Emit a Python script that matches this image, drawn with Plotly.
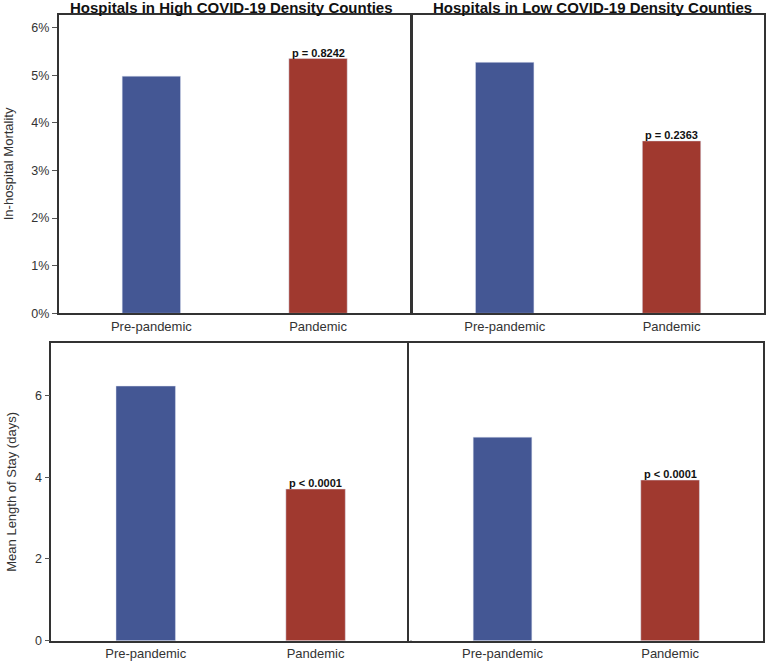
import plotly.graph_objects as go

categories = ["Pre-pandemic", "Pandemic"]
panel_titles = ["Hospitals in High COVID-19 Density Counties",
                "Hospitals in Low COVID-19 Density Counties"]
mortality_high = [0.0498, 0.0535]
mortality_low = [0.0527, 0.0362]
los_high = [6.23, 3.71]
los_low = [4.98, 3.93]
p_mortality_high = "p = 0.8242"
p_mortality_low = "p = 0.2363"
p_los_high = "p < 0.0001"
p_los_low = "p < 0.0001"
bar_colors = ["#445794", "#A0392F"]

FONT = "Liberation Sans, Arial, sans-serif"

fig = go.Figure()

panels = [
    ("x", "y", mortality_high, p_mortality_high),
    ("x2", "y2", mortality_low, p_mortality_low),
    ("x3", "y3", los_high, p_los_high),
    ("x4", "y4", los_low, p_los_low),
]
for xa, ya, vals, ptxt in panels:
    fig.add_trace(go.Bar(x=categories, y=vals, xaxis=xa, yaxis=ya,
                         width=0.35, marker=dict(color=bar_colors,
                         line=dict(color="rgba(220,225,240,0.8)", width=0.6)),
                         showlegend=False, hoverinfo="x+y"))
    fig.add_annotation(x=categories[1], y=vals[1], xref=xa, yref=ya,
                       text="<b>" + ptxt + "</b>", showarrow=False,
                       xanchor="center", yanchor="bottom", yshift=-2,
                       font=dict(family=FONT, size=11, color="#111"))

xcommon = dict(range=[-0.556, 1.556], showline=True, mirror=True, automargin=False,
               linecolor="#333", linewidth=1.5, ticks="", showgrid=False,
               tickfont=dict(family=FONT, size=13, color="#333"), fixedrange=True)
ycommon = dict(showline=True, mirror=True, linecolor="#333", linewidth=1.5,
               showgrid=False, zeroline=False, fixedrange=True, automargin=False,
               tickfont=dict(family=FONT, size=12.5, color="#333"))

fig.update_layout(
    width=770, height=661, autosize=False,
    margin=dict(l=0, r=0, t=0, b=0, pad=0),
    paper_bgcolor="white", plot_bgcolor="white",
    font=dict(family=FONT, color="#222"),
    xaxis=dict(domain=[0.0762, 0.5334], anchor="y", **xcommon),
    yaxis=dict(domain=[0.526, 0.977], anchor="x", range=[0, 0.0626],
               tickformat=".0%", dtick=0.01, ticks="outside", ticklen=5,
               tickcolor="#555", **ycommon),
    xaxis2=dict(domain=[0.535, 0.9926], anchor="y2", **xcommon),
    yaxis2=dict(domain=[0.526, 0.977], anchor="x2", range=[0, 0.0626],
                showticklabels=False, ticks="", **ycommon),
    xaxis3=dict(domain=[0.0666, 0.5325], anchor="y3", **xcommon),
    yaxis3=dict(domain=[0.0307, 0.4815], anchor="x3", range=[0, 7.29],
                dtick=2, ticks="outside", ticklen=5, tickcolor="#555", **ycommon),
    xaxis4=dict(domain=[0.5316, 0.9913], anchor="y4", **xcommon),
    yaxis4=dict(domain=[0.0307, 0.4815], anchor="x4", range=[0, 7.29],
                showticklabels=False, ticks="", **ycommon),
)

# panel titles
for title, xc in zip(panel_titles, [(0.0762 + 0.5334) / 2 - 0.004, (0.535 + 0.9926) / 2 + 0.006]):
    fig.add_annotation(x=xc, y=1.0, xref="paper", yref="paper", text="<b>" + title + "</b>",
                       showarrow=False, xanchor="center", yanchor="top", yshift=3,
                       font=dict(family=FONT, size=15, color="#111"))

# y-axis titles
fig.add_annotation(x=8 / 770, y=(0.526 + 0.977) / 2, xref="paper", yref="paper",
                   text="In-hospital Mortality", textangle=-90, showarrow=False,
                   xanchor="center", yanchor="middle",
                   font=dict(family=FONT, size=13, color="#333"))
fig.add_annotation(x=12 / 770, y=(0.0307 + 0.4815) / 2, xref="paper", yref="paper",
                   text="Mean Length of Stay (days)", textangle=-90, showarrow=False,
                   xanchor="center", yanchor="middle",
                   font=dict(family=FONT, size=13, color="#333"))

fig.write_html("out.html", config={"displayModeBar": False},
               post_script="document.body.style.margin='0';document.body.style.padding='0';")
